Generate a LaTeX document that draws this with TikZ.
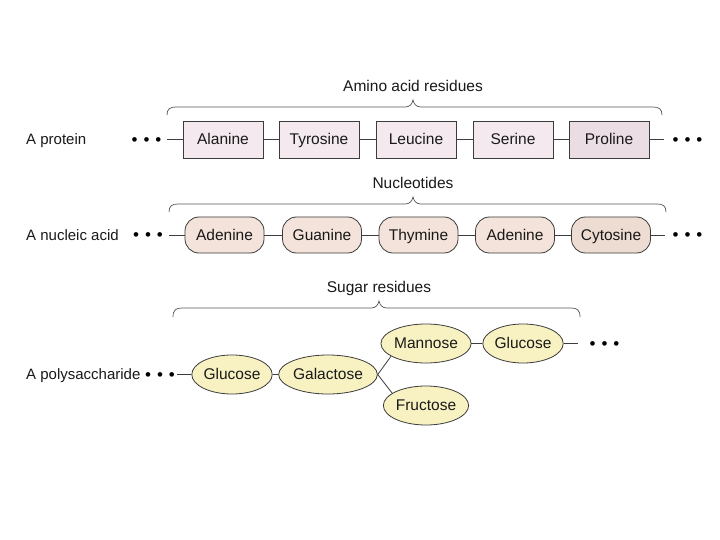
\documentclass[tikz,border=0pt]{standalone}
\usepackage{fontspec}
\setmainfont{Liberation Sans}
\usetikzlibrary{shapes.geometric}
\definecolor{boxfill}{HTML}{F3E9EE}
\definecolor{boxfilldark}{HTML}{EADEE4}
\definecolor{pillfill}{HTML}{F3E3DA}
\definecolor{pillfilldark}{HTML}{EDDCD2}
\definecolor{ellfill}{HTML}{F8F2C2}
\definecolor{edge}{HTML}{3C3C3C}
\definecolor{bracecol}{HTML}{555555}
\newcommand{\mybracepath}[5]{%
  \draw[bracestyle] ({#1},{#4+#5}) .. controls ({#1},{#4+2}) and ({#1+3},{#4}) .. ({#1+9},{#4})
    -- ({#2-8},{#4}) .. controls ({#2-3},{#4}) and ({#2-1},{#4-3}) .. ({#2},{#4-7})
    .. controls ({#2+1},{#4-3}) and ({#2+3},{#4}) .. ({#2+8},{#4})
    -- ({#3-9},{#4}) .. controls ({#3-3},{#4}) and ({#3},{#4+2}) .. ({#3},{#4+#5});}
\tikzset{
  txt/.style={font=\fontsize{15.5}{18}\selectfont, text=black!90, text height=14pt, text depth=3.2pt, inner sep=0pt},
  aabox/.style={txt, draw=edge, line width=0.8pt, fill=boxfill, rectangle, minimum width=80pt, minimum height=37pt},
  pill/.style={txt, draw=edge, line width=0.8pt, fill=pillfill, rectangle, rounded corners=14pt, minimum width=79pt, minimum height=36pt},
  sugar/.style={txt, draw=edge, line width=0.8pt, fill=ellfill, ellipse, minimum width=79pt, minimum height=39pt},
  link/.style={draw=edge, line width=0.8pt},
  bracestyle/.style={draw=bracecol, line width=0.7pt},
  dots/.style={font=\fontsize{17}{18}\selectfont, inner sep=0pt},
  rowlabel/.style={txt, font=\fontsize{15}{18}\selectfont, anchor=west},
}
\begin{document}
\begin{tikzpicture}[x=1pt,y=-1pt]
\useasboundingbox[fill=white] (0,0) rectangle (720,540);

% ---------- protein ----------
\node[rowlabel] (lp) at (26,139.5) {A protein};
\node[aabox] (p1) at (223,139.5) {Alanine};
\node[aabox] (p2) at (319,139.5) {Tyrosine};
\node[aabox] (p3) at (416,139.5) {Leucine};
\node[aabox] (p4) at (513,139.5) {Serine};
\node[aabox, fill=boxfilldark] (p5) at (609,139.5) {Proline};
\coordinate (pl) at (167,139.5);
\coordinate (pr) at (664,139.5);
\node[dots] (pdl) at (146.5,141.5) {•\hspace{6pt}•\hspace{6pt}•};
\node[dots] (pdr) at (687.5,141.5) {•\hspace{6pt}•\hspace{6pt}•};
\draw[link] (pl) -- (p1);
\draw[link] (p1) -- (p2);
\draw[link] (p2) -- (p3);
\draw[link] (p3) -- (p4);
\draw[link] (p4) -- (p5);
\draw[link] (p5) -- (pr);
\mybracepath{167}{413}{662}{107}{8}
\node[txt] (bp) at (413,86) {Amino acid residues};

% ---------- nucleic acid ----------
\node[rowlabel] (ln) at (26,235) {A nucleic acid};
\node[pill] (n1) at (224.5,235) {Adenine};
\node[pill] (n2) at (322,235) {Guanine};
\node[pill] (n3) at (418.5,235) {Thymine};
\node[pill] (n4) at (515,235) {Adenine};
\node[pill, fill=pillfilldark] (n5) at (611,235) {Cytosine};
\coordinate (nl) at (169,235);
\coordinate (nr) at (665,235);
\node[dots] (ndl) at (148,237) {•\hspace{6pt}•\hspace{6pt}•};
\node[dots] (ndr) at (687.5,237) {•\hspace{6pt}•\hspace{6pt}•};
\draw[link] (nl) -- (n1);
\draw[link] (n1) -- (n2);
\draw[link] (n2) -- (n3);
\draw[link] (n3) -- (n4);
\draw[link] (n4) -- (n5);
\draw[link] (n5) -- (nr);
\mybracepath{169}{413}{666}{204}{8}
\node[txt] (bn) at (413,183) {Nucleotides};

% ---------- polysaccharide ----------
\node[rowlabel] (ls) at (26,374.5) {A polysaccharide};
\node[sugar] (s1) at (232,374.5) {Glucose};
\node[sugar] (s2) at (328,374.5) {Galactose};
\node[sugar] (s3) at (426,343.5) {Mannose};
\node[sugar] (s4) at (523,343.5) {Glucose};
\node[sugar] (s5) at (426,405.5) {Fructose};
\coordinate (sl) at (177,374.5);
\coordinate (sr) at (578,343.5);
\node[dots] (sdl) at (160,376.5) {•\hspace{6pt}•\hspace{6pt}•};
\node[dots] (sdr) at (604.5,345.5) {•\hspace{6pt}•\hspace{6pt}•};
\draw[link] (sl) -- (s1);
\draw[link] (s1) -- (s2);
\draw[link] (s2.east) -- (s3.200);
\draw[link] (s2.east) -- (s5.160);
\draw[link] (s3) -- (s4);
\draw[link] (s4) -- (sr);
\mybracepath{173}{379}{580}{308}{9}
\node[txt] (bs) at (379,287) {Sugar residues};
\end{tikzpicture}
\end{document}
